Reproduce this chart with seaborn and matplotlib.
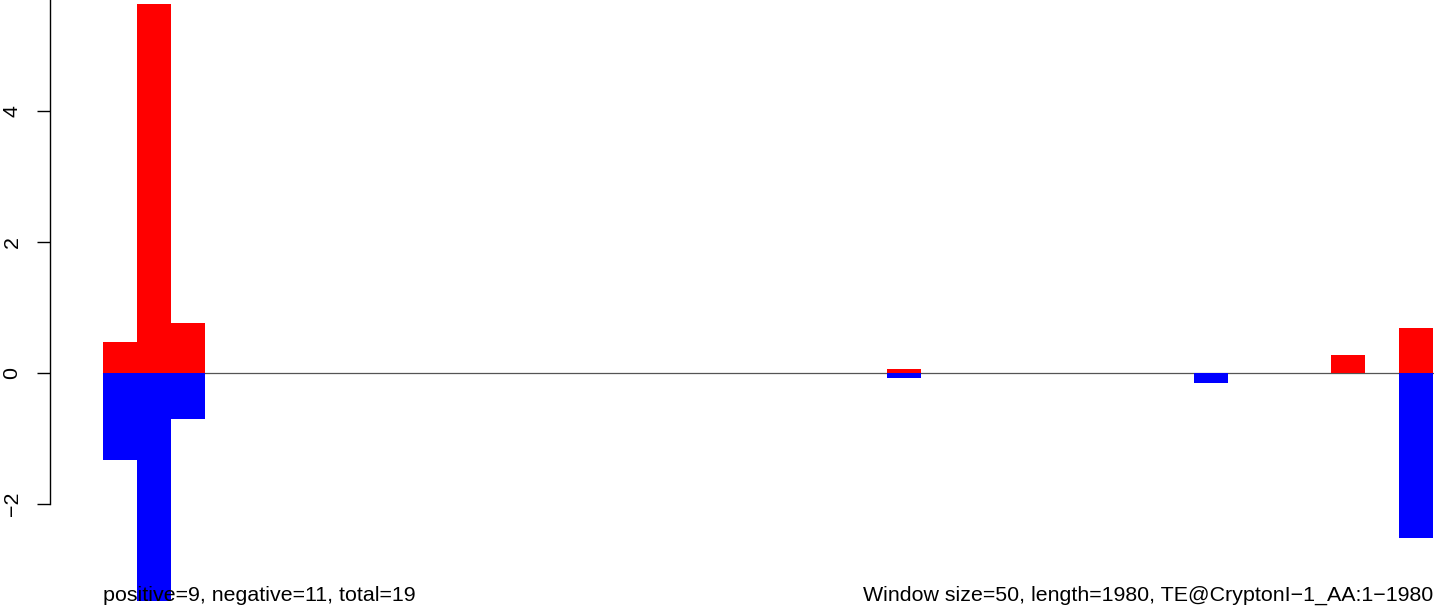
import numpy as np
import pandas as pd
import matplotlib
matplotlib.use("Agg")
import matplotlib.pyplot as plt
import seaborn as sns

# window starts (size 50, length 1980)
windows = [str(s) for s in range(0, 1950, 50)]

# non-zero windows
pos_idx = [0, 1, 2, 23, 36, 38]
pos_val = [0.48, 5.63, 0.76, 0.06, 0.27, 0.69]
neg_idx = [0, 1, 2, 23, 32, 38]
neg_val = [-1.33, -3.48, -0.70, -0.07, -0.15, -2.51]

y_ticks = [-2, 0, 2, 4]
left_note = "positive=9, negative=11, total=19"
right_note = "Window size=50, length=1980, TE@CryptonI\u22121_AA:1\u22121980"

positive = np.zeros(len(windows))
positive[pos_idx] = pos_val
negative = np.zeros(len(windows))
negative[neg_idx] = neg_val

df = pd.DataFrame({"window": windows, "positive": positive, "negative": negative})

sns.set_style("white")
plt.rcParams["font.family"] = ["Liberation Sans", "DejaVu Sans"]
plt.rcParams["text.color"] = "black"

W, H = 1444, 613
fig = plt.figure(figsize=(W / 100, H / 100), dpi=100)
ax = fig.add_axes([50 / W, 0, (W - 50) / W, 1])

# zero line under the bars
ax.plot([-0.5, len(windows) - 0.5], [0, 0], color="#555555", lw=0.9, zorder=0)

sns.barplot(data=df, x="window", y="positive", order=windows, color="red",
            width=1, linewidth=0, saturation=1, ax=ax, zorder=2)
sns.barplot(data=df, x="window", y="negative", order=windows, color="blue",
            width=1, linewidth=0, saturation=1, ax=ax, zorder=2)

# pixel mapping: bar 0 left at 103px, bar 38 right at 1433px; y=0 at 373px
bw = (1433 - 103) / len(windows)
ax.set_xlim(-0.5 - (103 - 50) / bw, len(windows) - 0.5 + (W - 1433) / bw)
ppu = 65.6
ax.set_ylim(-(H - 373) / ppu, 373 / ppu)

for s in ["top", "right", "bottom"]:
    ax.spines[s].set_visible(False)
ax.spines["left"].set_bounds(-2, 6)
ax.spines["left"].set_color("black")
ax.spines["left"].set_linewidth(1)

ax.set_yticks(y_ticks)
ax.set_yticklabels([str(t).replace("-", "\u2212") for t in y_ticks],
                   rotation=90, va="center", fontsize=15.4, color="black")
ax.tick_params(axis="y", left=True, length=9.5, width=1, pad=11, colors="black")
ax.set_xticks([])
ax.set_xlabel("")
ax.set_ylabel("")

fig.text(103 / W, 1 - 601 / H, left_note, ha="left", va="baseline",
         fontsize=15.4, color="black", zorder=5)
fig.text(1433 / W, 1 - 601 / H, right_note, ha="right", va="baseline",
         fontsize=15.4, color="black", zorder=5)

fig.savefig("out.png", dpi=100)
